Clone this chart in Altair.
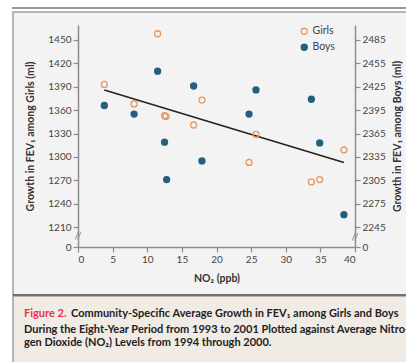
import altair as alt
import pandas as pd

# ---- data ----
girls_no2 = [3.8, 8.1, 11.5, 12.5, 12.7, 16.7, 17.9, 24.7, 25.7, 33.7, 34.9, 38.4]
girls_fev = [1393, 1368, 1458, 1353, 1352, 1341, 1373, 1293, 1329, 1268, 1271, 1309]
boys_no2 = [3.8, 8.1, 11.5, 12.5, 12.8, 16.7, 17.9, 24.7, 25.7, 33.7, 34.9, 38.4]
boys_fev = [2401, 2390, 2445, 2354, 2306, 2426, 2330, 2390, 2421, 2409, 2353, 2261]
fit_no2 = [3.8, 38.4]
fit_fev = [1386, 1293]
x_ticks = [0, 5, 10, 15, 20, 25, 30, 35, 40]
left_ticks = [1184.6, 1210, 1240, 1270, 1300, 1330, 1360, 1390, 1420, 1450]
right_ticks = [2219.6, 2245, 2275, 2305, 2335, 2365, 2395, 2425, 2455, 2485]
left_domain = [1184.6, 1469.2]
right_domain = [2219.6, 2504.2]
series = ["Girls", "Boys"]

ORANGE = "#e8975e"
TEAL = "#245f7e"
FONT = "Lato"

girls = pd.DataFrame({"no2": girls_no2, "fev": girls_fev, "sex": "Girls"})
boys = pd.DataFrame({"no2": boys_no2, "fev": boys_fev, "sex": "Boys"})
fit = pd.DataFrame({"no2": fit_no2, "fev": fit_fev})
one = pd.DataFrame({"k": [0]})

axis_common = dict(
    domainColor="#8c8c8c", domainWidth=1.5, tickColor="#8c8c8c", tickWidth=1.2,
    tickSize=5, labelColor="#444444", labelFont=FONT, labelFontSize=10,
    titleFont=FONT, titleFontSize=10.5, titleFontWeight="bold", titleColor="#333333",
    grid=False, zindex=1, labelOverlap=False, labelPadding=2,
)

x_enc = alt.X("no2:Q", scale=alt.Scale(domain=[0, 40], nice=False, zero=False),
              axis=alt.Axis(values=x_ticks, title="NO₂ (ppb)",
                            titlePadding=9, **axis_common))
y_left = alt.Y("fev:Q", scale=alt.Scale(domain=left_domain, nice=False, zero=False),
               axis=alt.Axis(values=left_ticks, format="d",
                             labelExpr="datum.value < 1200 ? '0' : datum.label",
                             title="Growth in FEV₁ among Girls (ml)", titlePadding=12,
                             **axis_common))
y_right = alt.Y("fev:Q", scale=alt.Scale(domain=right_domain, nice=False, zero=False),
                axis=alt.Axis(values=right_ticks, format="d", orient="right",
                              labelExpr="datum.value < 2230 ? '0' : datum.label",
                              title="Growth in FEV₁ among Boys (ml)", titlePadding=7,
                              titleAngle=270, titleBaseline="top", **axis_common))

legend_kw = dict(title=None, orient="none", legendX=221, legendY=1,
                 labelFont=FONT, labelFontSize=10.5, labelColor="#444444",
                 symbolSize=36, symbolStrokeWidth=1.3, labelOffset=3,
                 rowPadding=4, padding=0)
stroke_enc = alt.Stroke("sex:N", scale=alt.Scale(domain=series, range=[ORANGE, TEAL]),
                        legend=alt.Legend(**legend_kw))
fill_enc = alt.Fill("sex:N", scale=alt.Scale(domain=series, range=["transparent", TEAL]),
                    legend=alt.Legend(**legend_kw))

fit_line = alt.Chart(fit).mark_line(color="#222222", strokeWidth=1.6).encode(
    x=x_enc, y=y_left)
girls_pts = alt.Chart(girls).mark_point(size=36, strokeWidth=1.3, opacity=1).encode(
    x=x_enc, y=y_left, stroke=stroke_enc, fill=fill_enc)
left_layer = alt.layer(fit_line, girls_pts)

boys_pts = alt.Chart(boys).mark_point(size=36, strokeWidth=1.3, opacity=1).encode(
    x=x_enc, y=y_right, stroke=stroke_enc, fill=fill_enc)

# ---- decorative frame (pixel positions relative to plot area) ----
panel = alt.Chart(one).mark_rect(fill="#f3f3f3", stroke="#a0a0a0", strokeWidth=1.5).encode(
    x=alt.value(-65), x2=alt.value(345), y=alt.value(-13), y2=alt.value(270))
caption_bg = alt.Chart(one).mark_rect(fill="#f0ebe4", stroke="#a0a0a0", strokeWidth=1.5).encode(
    x=alt.value(-65), x2=alt.value(345), y=alt.value(271), y2=alt.value(360))
sep = alt.Chart(one).mark_rule(color="#707070", strokeWidth=2).encode(
    x=alt.value(-65), x2=alt.value(345), y=alt.value(270))
top_line = alt.Chart(one).mark_rule(color="#333333", strokeWidth=1.2).encode(
    x=alt.value(-66), x2=alt.value(345), y=alt.value(-17))

brk_left = alt.Chart(one).mark_text(text="//", font=FONT, fontSize=10, color="#777777",
                                    align="center", baseline="middle").encode(
    x=alt.value(0), y=alt.value(211))
brk_right = alt.Chart(one).mark_text(text="//", font=FONT, fontSize=10, color="#777777",
                                     align="center", baseline="middle").encode(
    x=alt.value(277), y=alt.value(212))

cap_kw = dict(font=FONT, fontSize=11, fontWeight="bold", align="left", baseline="middle")
cap1a = alt.Chart(one).mark_text(text="Figure 2.", color="#e8334a", **cap_kw).encode(
    x=alt.value(-54), y=alt.value(289))
cap1b = alt.Chart(one).mark_text(
    text="Community-Specific Average Growth in FEV₁ among Girls and Boys",
    color="#222222", **cap_kw).encode(x=alt.value(-7), y=alt.value(289))
cap2 = alt.Chart(one).mark_text(
    text="During the Eight-Year Period from 1993 to 2001 Plotted against Average Nitro-",
    color="#222222", **cap_kw).encode(x=alt.value(-54), y=alt.value(305))
cap3 = alt.Chart(one).mark_text(
    text="gen Dioxide (NO₂) Levels from 1994 through 2000.",
    color="#222222", **cap_kw).encode(x=alt.value(-54), y=alt.value(318))

data_layers = alt.layer(left_layer, boys_pts).resolve_scale(y="independent")

chart = alt.layer(
    panel, caption_bg, sep, top_line, brk_left, brk_right,
    cap1a, cap1b, cap2, cap3, data_layers,
).properties(
    width=277, height=222,
    autosize=alt.AutoSizeParams(type="none"),
    padding={"left": 78, "top": 25, "right": 51, "bottom": 115},
    background="white",
).configure_view(stroke=None, fill=None)

chart.save("out.html", embed_options={"renderer": "svg", "actions": False})
